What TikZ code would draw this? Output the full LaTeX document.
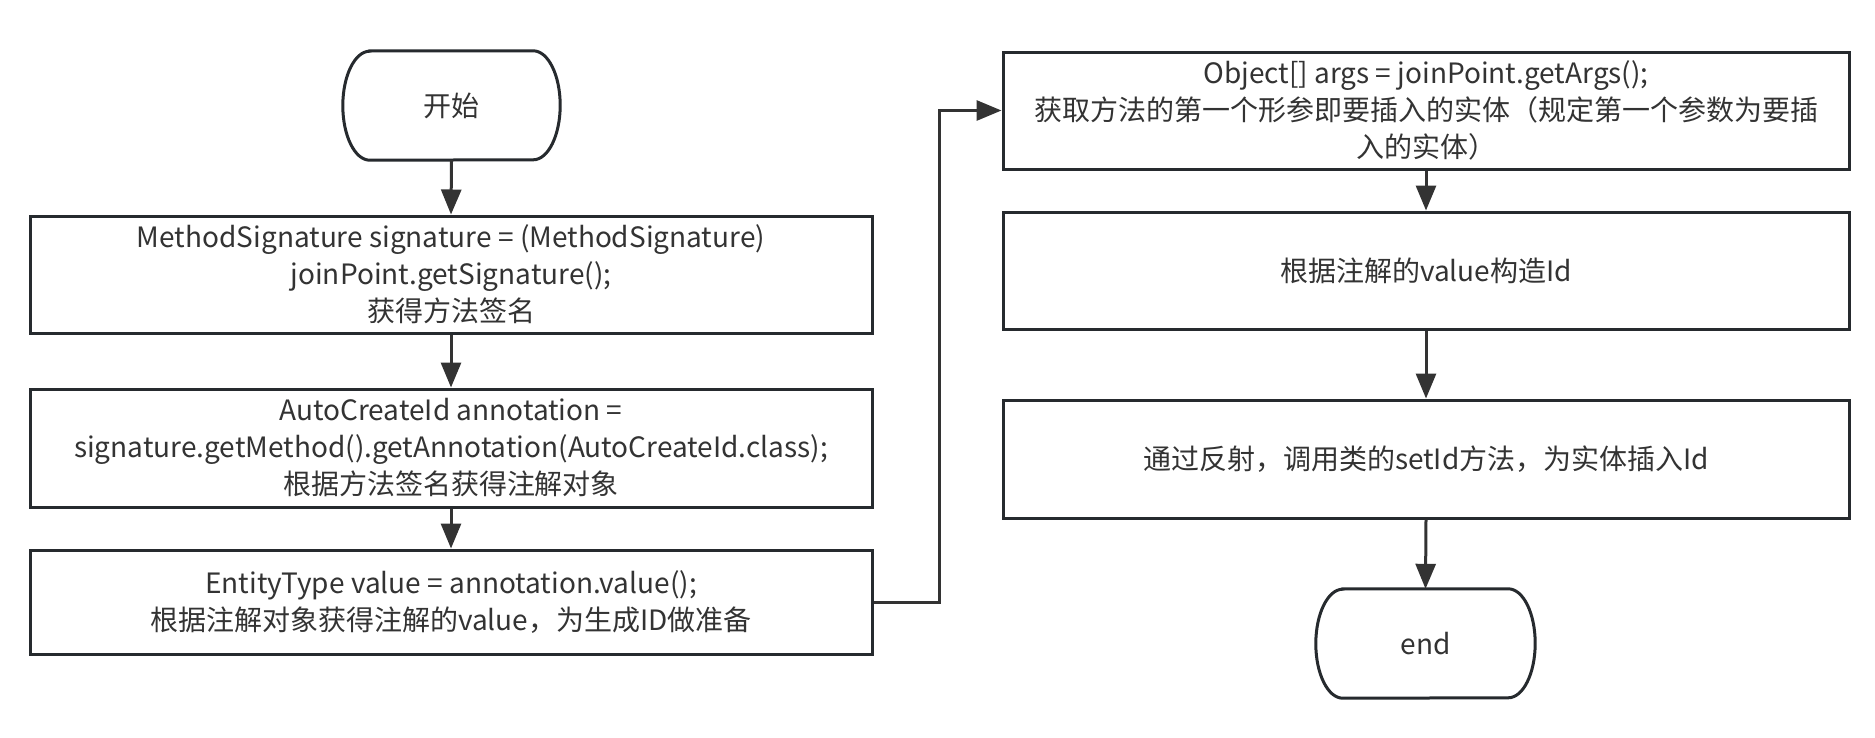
\documentclass[tikz,border=0pt]{standalone}
\usepackage{fontspec}
\setmainfont{Noto Sans CJK SC}
\usetikzlibrary{arrows.meta}
\definecolor{bordc}{HTML}{262A2E}
\definecolor{linec}{HTML}{333333}
\definecolor{textc}{HTML}{333333}
\tikzset{
  stepbox/.style={draw=bordc, line width=3pt, rectangle, minimum width=842pt, align=center, text=textc, font=\fontsize{28}{37}\selectfont, inner sep=0pt},
  termbox/.style={draw=none, rectangle, minimum width=217pt, minimum height=109pt, align=center, text=textc, font=\fontsize{28}{37}\selectfont},
  flow/.style={draw=linec, line width=3pt, -{Triangle[length=25pt,width=20pt]}}
}
\begin{document}
\begin{tikzpicture}[x=1pt,y=-1pt]
\useasboundingbox (0,0) rectangle (1875,737);
\fill[white] (0,0) rectangle (1875,737);
% left column
\node[termbox] (s) at (451.5,105.5) {开始};
\draw[bordc, line width=3pt] ([xshift=27pt]s.north west) -- ([xshift=-27pt]s.north east)
  arc[start angle=90, end angle=-90, x radius=27pt, y radius=54.5pt]
  -- ([xshift=27pt]s.south west)
  arc[start angle=270, end angle=90, x radius=27pt, y radius=54.5pt] -- cycle;
\node[stepbox, minimum height=117pt] (b1) at (451,274.5) {MethodSignature signature = (MethodSignature)\\joinPoint.getSignature();\\获得方法签名};
\node[stepbox, minimum height=118pt] (b2) at (451,448) {AutoCreateId annotation =\\signature.getMethod().getAnnotation(AutoCreateId.class);\\根据方法签名获得注解对象};
\node[stepbox, minimum height=104pt] (b3) at (451,602) {EntityType value = annotation.value();\\根据注解对象获得注解的value，为生成ID做准备};
% right column
\node[stepbox, minimum width=846pt, minimum height=117pt] (r1) at (1426,110.5) {Object[] args = joinPoint.getArgs();\\获取方法的第一个形参即要插入的实体（规定第一个参数为要插\\入的实体）};
\node[stepbox, minimum width=846pt, minimum height=117pt] (r2) at (1426,270.5) {根据注解的value构造Id};
\node[stepbox, minimum width=846pt, minimum height=118pt] (r3) at (1426,459) {通过反射，调用类的setId方法，为实体插入Id};
\node[termbox, minimum width=219pt] (e) at (1425.5,643.5) {end};
\draw[bordc, line width=3pt] ([xshift=27pt]e.north west) -- ([xshift=-27pt]e.north east)
  arc[start angle=90, end angle=-90, x radius=27pt, y radius=54.5pt]
  -- ([xshift=27pt]e.south west)
  arc[start angle=270, end angle=90, x radius=27pt, y radius=54.5pt] -- cycle;
% connectors
\draw[flow] (s.south) -- (b1.north);
\draw[flow] (b1.south) -- (b2.north);
\draw[flow] (b2.south) -- (b3.north);
\draw[flow] (b3.east) -- ++(66,0) |- (r1.west);
\draw[flow] (r1.south) -- (r2.north);
\draw[flow] (r2.south) -- (r3.north);
\draw[flow] (r3.south) -- (e.north);
\end{tikzpicture}
\end{document}
